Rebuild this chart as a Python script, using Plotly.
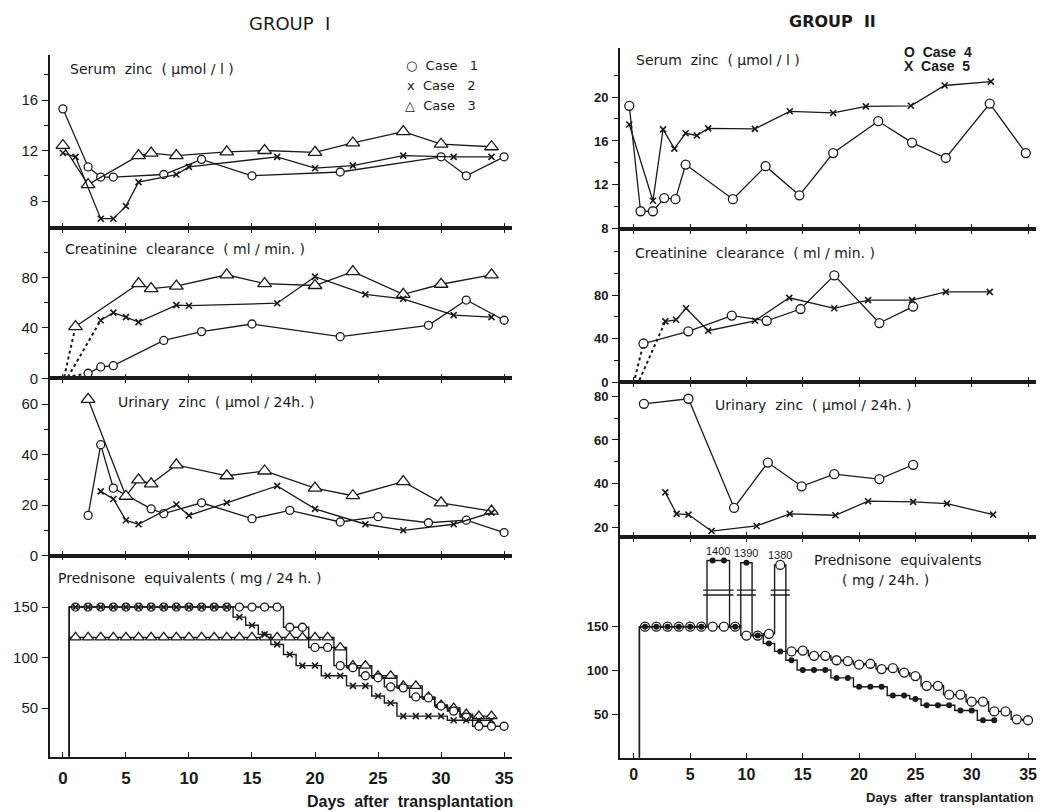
import plotly.graph_objects as go

W, H = 1045, 812
INK = "#1a1a1a"

# ======================= GROUP I =======================
# Serum zinc (umol/l)
g1_sz_c1_day = [0, 2, 3, 4, 8, 11, 15, 22, 30, 32, 35]
g1_sz_c1 = [15.3, 10.7, 9.9, 9.9, 10.1, 11.3, 10.0, 10.3, 11.5, 10.0, 11.5]
g1_sz_c2_day = [0, 1, 3, 4, 5, 6, 9, 10, 17, 20, 23, 27, 31, 34]
g1_sz_c2 = [11.8, 11.5, 6.6, 6.6, 7.6, 9.5, 10.1, 10.7, 11.5, 10.6, 10.8, 11.6, 11.5, 11.5]
g1_sz_c3_day = [0, 2, 6, 7, 9, 13, 16, 20, 23, 27, 30, 34]
g1_sz_c3 = [12.4, 9.3, 11.6, 11.8, 11.6, 11.9, 12.0, 11.85, 12.6, 13.5, 12.5, 12.3]

# Creatinine clearance (ml/min)
g1_cc_c1_day = [2, 3, 4, 8, 11, 15, 22, 29, 32, 35]
g1_cc_c1 = [4, 9, 10, 30, 37, 43, 33, 42, 62, 46]
g1_cc_c2_day = [3, 4, 5, 6, 9, 10, 17, 20, 24, 27, 31, 34]
g1_cc_c2 = [46, 52, 48.5, 44.5, 58, 57.5, 59.5, 80.5, 66.5, 63, 50, 48.5]
g1_cc_c3_day = [1, 6, 7, 9, 13, 16, 20, 23, 27, 30, 34]
g1_cc_c3 = [41, 75, 71, 73, 82, 75, 73.5, 84.5, 66.5, 74.5, 82]
# start of the dotted approach (day, value) before the first measurement, cases 1-3
g1_cc_start_day = [0.3, 0.4, 0.1]
g1_cc_start = [1, 1, 1]

# Urinary zinc (umol/24h)
g1_uz_c1_day = [2, 3, 4, 7, 8, 11, 15, 18, 22, 25, 29, 32, 35]
g1_uz_c1 = [15.9, 43.9, 26.7, 18.5, 16.6, 20.9, 14.6, 17.9, 13.3, 15.4, 13.0, 14.0, 9.1]
g1_uz_c2_day = [3, 4, 5, 6, 9, 10, 13, 17, 20, 24, 27, 31, 34]
g1_uz_c2 = [25.4, 22.4, 14.0, 12.4, 20.2, 15.9, 20.9, 27.6, 18.5, 12.4, 10.0, 12.4, 17.0]
g1_uz_c3_day = [2, 5, 6, 7, 9, 13, 16, 20, 23, 27, 30, 34]
g1_uz_c3 = [61.9, 23.5, 30.0, 28.4, 35.9, 31.6, 33.5, 26.7, 23.7, 29.3, 20.9, 17.6]

# Prednisone equivalents (mg/24h), daily
g1_pr_c1_day = [1, 2, 3, 4, 5, 6, 7, 8, 9, 10, 11, 12, 13, 14, 15, 16, 17, 18,
                19, 20, 21, 22, 23, 24, 25, 26, 27, 28, 29, 30, 31, 32, 33, 34, 35]
g1_pr_c1 = [150, 150, 150, 150, 150, 150, 150, 150, 150, 150, 150, 150, 150, 150, 150, 150, 150,
            130, 130, 110, 110, 92, 90, 82, 80, 71, 70, 61, 60, 52, 47, 41, 32, 32, 32]
g1_pr_c2_day = [1, 2, 3, 4, 5, 6, 7, 8, 9, 10, 11, 12, 13, 14, 15, 16, 17, 18,
                19, 20, 21, 22, 23, 24, 25, 26, 27, 28, 29, 30, 31, 32, 33, 34]
g1_pr_c2 = [150, 150, 150, 150, 150, 150, 150, 150, 150, 150, 150, 150, 150,
            140, 132, 123, 113, 103, 92, 92, 82, 82, 72, 72, 62, 55, 42, 42, 42, 42, 38, 38, 38, 38]
g1_pr_c3_day = [1, 2, 3, 4, 5, 6, 7, 8, 9, 10, 11, 12, 13, 14, 15, 16, 17, 18,
                19, 20, 21, 22, 23, 24, 25, 26, 27, 28, 29, 30, 31, 32, 33, 34]
g1_pr_c3 = [120, 120, 120, 120, 120, 120, 120, 120, 120, 120, 120, 120, 120, 120, 120, 120, 120,
            120, 120, 120, 120, 110, 92, 92, 82, 82, 72, 72, 61, 53, 50, 44, 42, 42]

# ======================= GROUP II =======================
g2_sz_c4_day = [-0.4, 0.6, 1.7, 2.7, 3.7, 4.6, 8.8, 11.7, 14.7, 17.7, 21.7, 24.7, 27.7, 31.6, 34.8]
g2_sz_c4 = [19.2, 9.6, 9.6, 10.8, 10.7, 13.85, 10.7, 13.7, 11.05, 14.9, 17.8, 15.85, 14.45, 19.4, 14.9]
g2_sz_c5_day = [-0.4, 1.7, 2.6, 3.6, 4.6, 5.6, 6.6, 10.75, 13.85, 17.7, 20.6, 24.6, 27.6, 31.7]
g2_sz_c5 = [17.5, 10.55, 17.05, 15.3, 16.7, 16.5, 17.15, 17.1, 18.7, 18.55, 19.15, 19.2, 21.05, 21.4]

g2_cc_c4_day = [0.86, 4.84, 8.7, 11.8, 14.8, 17.8, 21.8, 24.8]
g2_cc_c4 = [35.6, 46.8, 61.3, 56.5, 67.3, 98.2, 54.4, 69.5]
g2_cc_c5_day = [2.8, 3.75, 4.64, 6.6, 10.75, 13.8, 17.8, 20.8, 24.7, 27.7, 31.6]
g2_cc_c5 = [55.9, 57.4, 68.0, 47.4, 56.5, 77.6, 68.0, 75.5, 75.5, 83.0, 83.0]
g2_cc_start_day = [0.1, 0.5]
g2_cc_start = [4, 2]

g2_uz_c4_day = [0.9, 4.85, 8.9, 11.9, 14.9, 17.8, 21.8, 24.8]
g2_uz_c4 = [76.5, 78.8, 29.1, 49.7, 38.9, 44.4, 42.2, 48.7]
g2_uz_c5_day = [2.8, 3.8, 4.85, 6.9, 10.9, 13.85, 17.9, 20.8, 24.8, 27.8, 31.9]
g2_uz_c5 = [36.1, 26.3, 26.0, 18.5, 20.8, 26.3, 25.7, 32.1, 31.8, 31.0, 26.0]

g2_pr_c4_day = [1, 2, 3, 4, 5, 6, 7, 8, 9, 10, 11, 12, 13, 14, 15, 16, 17, 18,
                19, 20, 21, 22, 23, 24, 25, 26, 27, 28, 29, 30, 31, 32, 33, 34, 35]
g2_pr_c4 = [150, 150, 150, 150, 150, 150, 150, 150, 150, 140, 140, 142, 1380, 122, 123, 117, 117, 112,
            111, 107, 108, 102, 103, 98, 94, 83, 83, 73, 73, 65, 65, 54, 54, 45, 44]
g2_pr_c5_day = [1, 2, 3, 4, 5, 6, 7, 8, 9, 10, 11, 12, 13, 14, 15, 16, 17, 18,
                19, 20, 21, 22, 23, 24, 25, 26, 27, 28, 29, 30, 31, 32]
g2_pr_c5 = [150, 150, 150, 150, 150, 150, 1400, 1400, 150, 1390, 140, 131, 122, 112, 101, 101, 101, 92,
            92, 82, 82, 82, 72, 72, 68, 61, 61, 61, 55, 55, 44, 44]

x_tick_days = [0, 5, 10, 15, 20, 25, 30, 35]

# broken axis for the pulse doses
PULSE_MIN = 300
BREAK_BASE = 220
BREAK_REF = 1380


def shown(v):
    return v if v < PULSE_MIN else BREAK_BASE + (v - BREAK_REF) / 4.0


# ---------------------------------------------------------
def mk(kind, size=None):
    if kind == "circle":
        return dict(symbol="circle", size=size or 8, color="white", line=dict(color=INK, width=1.3))
    if kind == "tri":
        return dict(symbol="triangle-up", size=size or 12, color="white", line=dict(color=INK, width=1.3))
    if kind == "x":
        return dict(symbol="x-thin", size=size or 6, color=INK, line=dict(color=INK, width=1.6))
    if kind == "dot":
        return dict(symbol="circle", size=size or 6, color=INK, line=dict(color=INK, width=0))
    return None


def ax(i):
    return "" if i == 1 else str(i)


fig = go.Figure()


def add(x, y, panel, kind, size=None, dash="solid", shape="linear", mode="lines+markers", width=1.3):
    fig.add_trace(go.Scatter(
        x=x, y=y, xaxis="x" + ax(panel), yaxis="y" + ax(panel), mode=mode,
        line=dict(color=INK, width=width, dash=dash, shape=shape),
        marker=mk(kind, size) if "markers" in mode else None,
        showlegend=False, cliponaxis=False, hoverinfo="skip"))


def add_step(days, vals, panel, kind, size=None):
    xs = [0.5, 0.5] + days
    ys = [0, vals[0]] + [shown(v) for v in vals]
    fig.add_trace(go.Scatter(x=xs, y=ys, xaxis="x" + ax(panel), yaxis="y" + ax(panel), mode="lines",
                             line=dict(color=INK, width=1.4, shape="hvh"),
                             showlegend=False, cliponaxis=True, hoverinfo="skip"))
    fig.add_trace(go.Scatter(x=days, y=[shown(v) for v in vals], xaxis="x" + ax(panel),
                             yaxis="y" + ax(panel), mode="markers", marker=mk(kind, size),
                             showlegend=False, cliponaxis=False, hoverinfo="skip"))


# ---- Group I ----
add(g1_sz_c1_day, g1_sz_c1, 1, "circle")
add(g1_sz_c3_day, g1_sz_c3, 1, "tri")
add(g1_sz_c2_day, g1_sz_c2, 1, "x")

firsts = [(g1_cc_c1_day, g1_cc_c1), (g1_cc_c2_day, g1_cc_c2), (g1_cc_c3_day, g1_cc_c3)]
for (d, v), sd, sv in zip(firsts, g1_cc_start_day, g1_cc_start):
    add([sd, d[0]], [sv, v[0]], 2, None, dash="dot", mode="lines", width=2)
add(g1_cc_c1_day, g1_cc_c1, 2, "circle")
add(g1_cc_c3_day, g1_cc_c3, 2, "tri")
add(g1_cc_c2_day, g1_cc_c2, 2, "x")

add(g1_uz_c1_day, g1_uz_c1, 3, "circle")
add(g1_uz_c3_day, g1_uz_c3, 3, "tri")
add(g1_uz_c2_day, g1_uz_c2, 3, "x")

add_step(g1_pr_c3_day, g1_pr_c3, 4, "tri", 10)
add_step(g1_pr_c1_day, g1_pr_c1, 4, "circle", 8)
add_step(g1_pr_c2_day, g1_pr_c2, 4, "x", 6)

# ---- Group II ----
add(g2_sz_c4_day, g2_sz_c4, 5, "circle", 9)
add(g2_sz_c5_day, g2_sz_c5, 5, "x", 6)

firsts2 = [(g2_cc_c4_day, g2_cc_c4), (g2_cc_c5_day, g2_cc_c5)]
for (d, v), sd, sv in zip(firsts2, g2_cc_start_day, g2_cc_start):
    add([sd, d[0]], [sv, v[0]], 6, None, dash="dot", mode="lines", width=2)
add(g2_cc_c4_day, g2_cc_c4, 6, "circle", 9)
add(g2_cc_c5_day, g2_cc_c5, 6, "x", 6)

add(g2_uz_c4_day, g2_uz_c4, 7, "circle", 9)
add(g2_uz_c5_day, g2_uz_c5, 7, "x", 6)

add_step(g2_pr_c4_day, g2_pr_c4, 8, "circle", 9)
add_step(g2_pr_c5_day, g2_pr_c5, 8, "dot", 6)

# pulses: break marks + dose labels
shapes = []
annotations = []
for days, vals in [(g2_pr_c5_day, g2_pr_c5), (g2_pr_c4_day, g2_pr_c4)]:
    groups = []
    for d, v in zip(days, vals):
        if v >= PULSE_MIN:
            if groups and groups[-1][-1][0] == d - 1:
                groups[-1].append((d, v))
            else:
                groups.append([(d, v)])
    for g in groups:
        x0, x1 = g[0][0] - 0.5, g[-1][0] + 0.5
        for yb in (186, 191.5):
            shapes.append(dict(type="line", xref="x8", yref="y8", x0=x0 - 0.35, x1=x1 + 0.35,
                               y0=yb, y1=yb, line=dict(color=INK, width=1.4)))
        annotations.append(dict(x=(x0 + x1) / 2, y=shown(g[0][1]) + 11, xref="x8", yref="y8",
                                text=str(g[0][1]), showarrow=False,
                                font=dict(family="Liberation Sans Narrow, Liberation Sans", size=11, color=INK)))

# ---------------- axes ----------------
LEFT_X = (42, 505)
RIGHT_X = (613, 1030)
XR_LEFT = [-1.03, 35.63]
XR_RIGHT = [-1.24, 35.71]

panels = {
    1: dict(side="L", py=(47, 222), yr=[5.88, 19.6], major=[8, 12, 16], minor=[10, 14, 18], top=True, bottom=False),
    2: dict(side="L", py=(222, 374), yr=[0, 119.2], major=[0, 40, 80], minor=[20, 60, 100], top=False, bottom=False),
    3: dict(side="L", py=(374, 553), yr=[0, 70.2], major=[0, 20, 40, 60], minor=[10, 30, 50], top=False, bottom=False),
    4: dict(side="L", py=(553, 756), yr=[2, 201], major=[50, 100, 150], minor=[], top=False, bottom=True),
    5: dict(side="R", py=(40, 223), yr=[8, 24.5], major=[8, 12, 16, 20], minor=[10, 14, 18, 22], top=True, bottom=False),
    6: dict(side="R", py=(223, 378), yr=[0, 141], major=[0, 40, 80], minor=[20, 60, 100, 120], top=False, bottom=False),
    7: dict(side="R", py=(378, 534), yr=[15.9, 86.3], major=[20, 40, 60, 80], minor=[30, 50, 70], top=False, bottom=False),
    8: dict(side="R", py=(534, 757), yr=[1.7, 252], major=[50, 100, 150], minor=[], top=False, bottom=True),
}

layout = dict(width=W, height=H, margin=dict(l=0, r=0, t=0, b=0), autosize=False,
              paper_bgcolor="white", plot_bgcolor="white", showlegend=False)

for i, p in panels.items():
    left = p["side"] == "L"
    xpx = LEFT_X if left else RIGHT_X
    xr = XR_LEFT if left else XR_RIGHT
    layout["xaxis" + ax(i)] = dict(
        domain=[xpx[0] / W, xpx[1] / W], range=xr, anchor="y" + ax(i),
        tickmode="array", tickvals=x_tick_days, ticks="inside", ticklen=5, tickwidth=1.4, tickcolor=INK,
        showline=True, linecolor=INK, linewidth=1.6, mirror=(False if p["top"] else "ticks"),
        showgrid=False, zeroline=False, showticklabels=p["bottom"], ticklabelstandoff=(5 if left else 1),
        tickfont=dict(family="Liberation Sans", size=(17 if left else 16), color=INK, weight="bold"))
    yax = dict(
        domain=[1 - p["py"][1] / H, 1 - p["py"][0] / H], range=p["yr"], anchor="x" + ax(i),
        tickmode="array", tickvals=p["major"], ticks="outside", ticklen=6, tickwidth=1.4, tickcolor=INK,
        showline=True, linecolor=INK, linewidth=1.6, showgrid=False, zeroline=False,
        ticklabelstandoff=1,
        tickfont=dict(family="Liberation Sans", size=(15 if left else 13), color=INK,
                      weight=("normal" if left else "bold")))
    if p["minor"]:
        yax["minor"] = dict(tickmode="array", tickvals=p["minor"], ticks="outside", ticklen=4,
                            tickwidth=1.2, tickcolor=INK, showgrid=False)
    layout["yaxis" + ax(i)] = yax


def note(text, px, py, size=15, bold=False, family="DejaVu Sans", anchor="left"):
    annotations.append(dict(x=px / W, y=1 - py / H, xref="paper", yref="paper", text=text,
                            showarrow=False, xanchor=anchor, yanchor="middle",
                            font=dict(family=family, size=size, color=INK,
                                      weight=("bold" if bold else "normal"))))


note("GROUP  I", 282, 16, size=18, anchor="center")
note("GROUP  II", 826, 14, size=16, bold=True, anchor="center")

note("Serum  zinc  ( µmol / l )", 60, 62, size=14)
note("Creatinine  clearance  ( ml / min. )", 55, 243, size=14)
note("Urinary  zinc  ( µmol / 24h. )", 108, 398, size=14)
note("Prednisone  equivalents ( mg / 24 h. )", 48, 576, size=14)

note("Serum  zinc  ( µmol / l )", 627, 53, size=14)
note("Creatinine  clearance  ( ml / min. )", 626, 247, size=14)
note("Urinary  zinc  ( µmol / 24h. )", 706, 401, size=14)
note("Prednisone  equivalents", 806, 557, size=14)
note("( mg / 24h. )", 834, 578, size=14)

note("○  Case   1", 397, 58, size=13)
note("x  Case   2", 398, 78, size=13)
note("△  Case   3", 396, 98, size=13)
note("O  Case  4", 896, 44, size=14, bold=True, family="Liberation Sans")
note("X  Case  5", 896, 59, size=14, bold=True, family="Liberation Sans")

note("Days  after  transplantation", 508, 801, size=16, bold=True, family="Liberation Sans", anchor="right")
note("Days  after  transplantation", 1030, 797, size=13, bold=True, family="Liberation Sans", anchor="right")

layout["shapes"] = shapes
layout["annotations"] = annotations
fig.update_layout(**layout)
fig.write_html("out.html")
